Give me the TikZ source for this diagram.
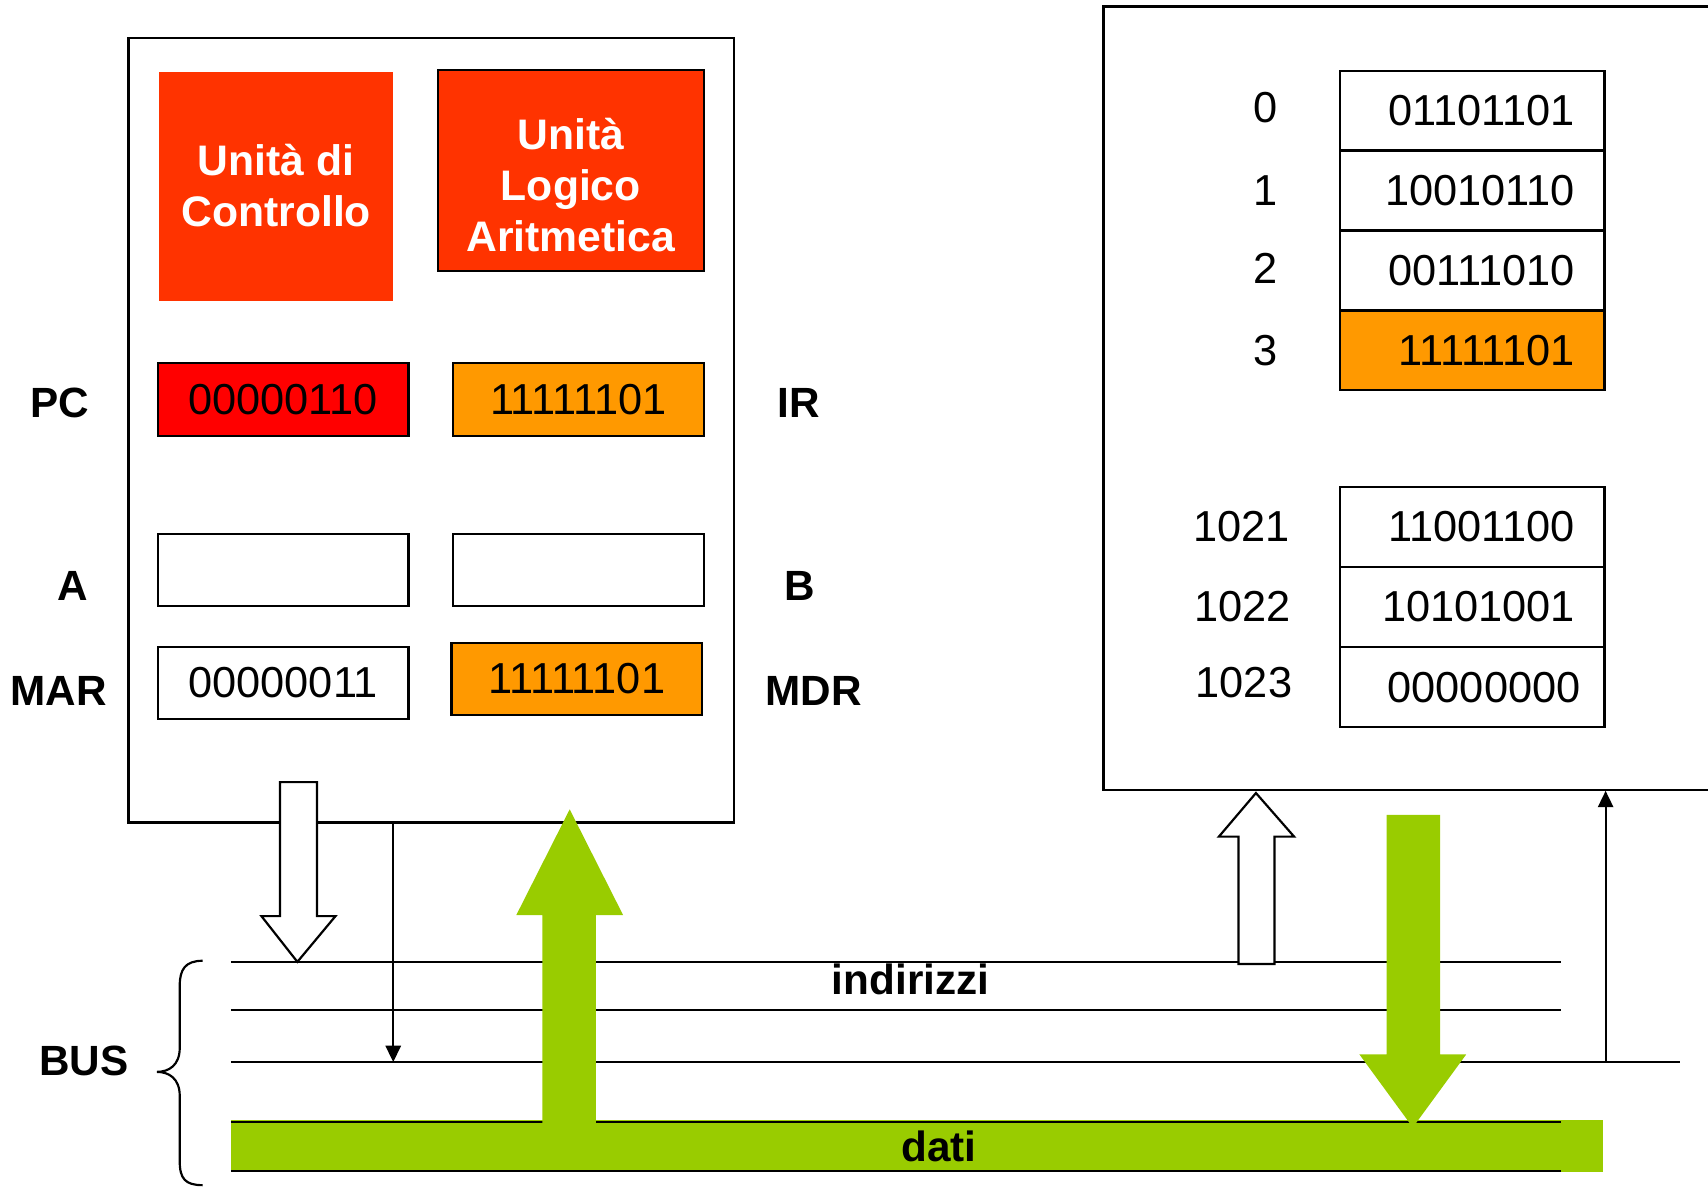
\documentclass[tikz,border=0pt]{standalone}
\usepackage{fontspec}
\setmainfont{Liberation Sans}
\usetikzlibrary{arrows.meta}
\definecolor{cured}{HTML}{FF3300}
\definecolor{regred}{HTML}{FF0000}
\definecolor{regorange}{HTML}{FF9900}
\definecolor{busgreen}{HTML}{99CC00}
\begin{document}
\begin{tikzpicture}[x=0.5pt,y=-0.5pt, line width=1pt,
  every node/.style={font=\fontsize{19.9}{23.5}\selectfont},
  lbl/.style={font=\fontsize{19.4}{23.5}\selectfont\bfseries},
  unitbox/.style={fill=cured, inner sep=0},
  unittext/.style={font=\fontsize{19.6}{23.5}\selectfont\bfseries, text=white, align=center},
  reg/.style={draw, inner sep=0, minimum width=115pt, minimum height=33.5pt},
  cell/.style={draw, inner xsep=13.5pt, inner ysep=0, text width=94.5pt, align=right, minimum height=36.7pt},
  hollow/.style={draw, fill=white, line width=1pt, line join=miter},
  garrow/.style={fill=busgreen},
  busline/.style={line width=1pt},
  thinarrow/.style={-{Triangle[length=7.5pt,width=7pt]}, line width=0.9pt}
]
\useasboundingbox (0,0) rectangle (1568,1089);

% CPU
\node[draw, inner sep=0, minimum width=278pt, minimum height=360pt] (cpu) at (396,395) {};
\node[unitbox, minimum width=107.5pt, minimum height=105pt] (uc) at (253.5,171) {};
\node[unittext] (uct) at (253.5,170) {Unità di\\Controllo};
\node[unitbox, draw=black, minimum width=122pt, minimum height=92.5pt] (alu) at (524,156.5) {};
\node[unittext] (alut) at (524,170) {Unità\\Logico\\Aritmetica};

\node[reg, fill=regred] (pc) at (260,366.5) {00000110};
\node[reg, fill=regorange] (ir) at (531,366.5) {11111101};
\node[reg, minimum height=33pt] (ra) at (260,523) {};
\node[reg, minimum height=33pt] (rb) at (531,523) {};
\node[reg, minimum height=33pt] (mar) at (260,627) {00000011};
\node[reg, fill=regorange, minimum height=33pt] (mdr) at (529.5,623) {11111101};

\node[lbl] (pcl) at (55,370) {PC};
\node[lbl] (irl) at (733,370) {IR};
\node[lbl] (al) at (67,538) {A};
\node[lbl] (bl) at (734,538) {B};
\node[lbl] (marl) at (54,634) {MAR};
\node[lbl] (mdrl) at (747,634) {MDR};

% Memory
\node[draw, inner sep=0, minimum width=278.5pt, minimum height=359.5pt] (mem) at (1291.5,365.5) {};
\node[cell, minimum height=36.5pt] (c0) at (1351.5,101.5) {01101101};
\node[cell, minimum height=36.5pt] (c1) at (1351.5,175) {10010110};
\node[cell, minimum height=36.5pt] (c2) at (1351.5,248.5) {00111010};
\node[cell, minimum height=36.5pt, fill=regorange] (c3) at (1351.5,321.5) {11111101};
\node[cell] (c1021) at (1351.5,483.5) {11001100};
\node[cell] (c1022) at (1351.5,557) {10101001};
\node[cell, inner xsep=11pt, text width=99.5pt] (c1023) at (1351.5,631) {00000000};

\node (a0) at (1162,99) {0};
\node (a1) at (1162,175) {1};
\node (a2) at (1162,246) {2};
\node (a3) at (1162,322) {3};
\node (a1021) at (1140,483) {1021};
\node (a1022) at (1141,557) {1022};
\node (a1023) at (1142,627) {1023};

% Bus
\coordinate (bl1) at (212,883);  \coordinate (br1) at (1433,883);
\coordinate (bl2) at (212,927);  \coordinate (br2) at (1433,927);
\coordinate (bl3) at (212,975);  \coordinate (br3) at (1542,975);
\coordinate (bl4) at (212,1030); \coordinate (br4) at (1433,1030);
\coordinate (bl5) at (212,1075); \coordinate (br5) at (1433,1075);

\fill[busgreen] (212,1028) rectangle (1472,1076);
\draw[busline] (bl1) -- (br1);
\draw[busline] (bl2) -- (br2);
\draw[busline] (bl3) -- (br3);
\draw[busline] (bl4) -- (br4);
\draw[busline] (bl5) -- (br5);

\node[lbl] (indl) at (836,899) {indirizzi};
\node[lbl] (datil) at (862,1052) {dati};
\node[lbl] (busl) at (77,974) {BUS};

% brace
\draw[line width=1pt] (186,882) .. controls (170,882) and (165,890) .. (165,905) -- (165,962)
  .. controls (165,978) and (155,984) .. (144,984)
  .. controls (155,984) and (165,990) .. (165,1006) -- (165,1066)
  .. controls (165,1082) and (170,1088) .. (186,1088);

% arrows
\draw[hollow] (257,718) -- (291,718) -- (291,841) -- (308,841) -- (273,883) -- (240,841) -- (257,841) -- cycle;
\coordinate (t1s) at (361,755);
\coordinate (t1e) at (361,975);
\draw[thinarrow] (t1s) -- (t1e);
\fill[garrow] (498,1033) -- (498,840) -- (474,840) -- (523,743) -- (572,840) -- (547,840) -- (547,1033) -- cycle;
\draw[hollow] (1137,885) -- (1137,768) -- (1119,768) -- (1153,728) -- (1188,768) -- (1170,768) -- (1170,885) -- cycle;
\fill[garrow] (1273,748) -- (1322,748) -- (1322,968) -- (1346,968) -- (1297,1035) -- (1248,968) -- (1273,968) -- cycle;
\coordinate (t2s) at (1474,975);
\coordinate (t2e) at (1474,726);
\draw[thinarrow] (t2s) -- (t2e);
\end{tikzpicture}
\end{document}
